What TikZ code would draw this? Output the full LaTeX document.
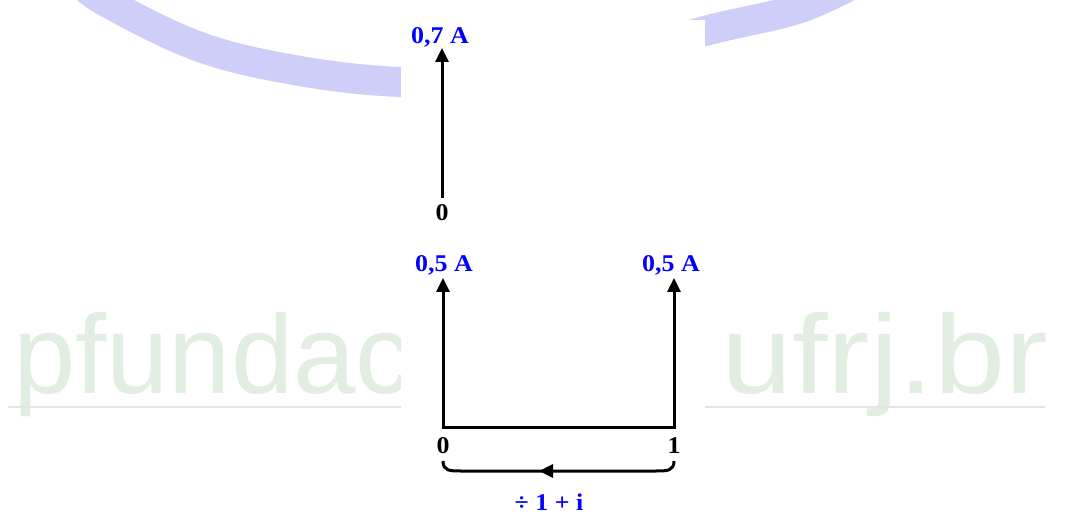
\documentclass[tikz,border=0pt]{standalone}
\usepackage{fontspec}
\setmainfont{Liberation Serif}
\newfontfamily\labfont[FakeStretch=1.08]{Liberation Serif Bold}
\newfontfamily\wmfont{Liberation Sans}
\usetikzlibrary{arrows.meta,decorations.markings}
\definecolor{lav}{RGB}{206,206,248}
\definecolor{wmgreen}{RGB}{226,238,226}
\definecolor{wmline}{RGB}{226,230,226}
\definecolor{labblue}{RGB}{0,0,255}
\tikzset{
  lbl/.style={font=\labfont\fontsize{24}{24}\selectfont, inner sep=0pt, anchor=base},
  val/.style={lbl, text=labblue},
  axis/.style={line width=3pt, draw=black},
  tipA/.tip={Triangle[length=14pt,width=13pt]},
  vec/.style={axis, -tipA},
  wm/.style={font=\wmfont\fontsize{112}{112}\selectfont, text=wmgreen, inner sep=0pt},
}
\begin{document}
\begin{tikzpicture}[x=1pt,y=-1pt]
\path[use as bounding box] (0,0) rectangle (1065,518);
\fill[white] (0,0) rectangle (1065,518);
% watermark
\begin{scope}
  \clip (0,0) rectangle (1065,518);
  \draw[lav, line width=30pt] plot[smooth, tension=0.6] coordinates {(75,-25) (103,0) (200,47) (300,71) (400,82) (500,80) (600,62) (705,31) (800,8) (870,-25)};
  \node[wm, anchor=base west] (wmL) at (13,393) {pfundac};
  \node[wm, anchor=base east] (wmR) at (1048,393) {\scalebox{1.14}[1]{ufrj.br}};
  \coordinate (ulA) at (8,407);
  \coordinate (ulB) at (1045,407);
  \draw[wmline, line width=1.5pt] (ulA) -- (ulB);
\end{scope}
\fill[white] (401,20) rectangle (705,518);
% upper vector
\coordinate (a0) at (442,198);
\coordinate (a1) at (442,48);
\draw[vec] (a0) -- (a1);
\node[val] (v07) at (440,44) {0,7 A};
\node[lbl] (z0) at (442,221) {0};
% lower vectors
\coordinate (ot) at (443,278);
\coordinate (o) at (443,427);
\coordinate (p) at (674,427);
\coordinate (pt) at (674,278);
\draw[axis, tipA-tipA] (ot) -- (o) -- (p) -- (pt);
\node[val] (v05a) at (444,272) {0,5 A};
\node[val] (v05b) at (671,272) {0,5 A};
\node[lbl] (z1) at (443,453) {0};
\node[lbl] (u1) at (674,453) {1};
% bracket
\coordinate (br) at (674,461);
\coordinate (bl) at (443,461);
\draw[axis, postaction={decorate}, decoration={markings, mark=at position 0.58 with {\arrow{tipA}}}]
  (br) .. controls (674,471) and (667,471) .. (656,471) -- (461,471) .. controls (450,471) and (443,471) .. (bl);
\node[val] (div) at (549,510) {÷ 1 + i};
\end{tikzpicture}
\end{document}
